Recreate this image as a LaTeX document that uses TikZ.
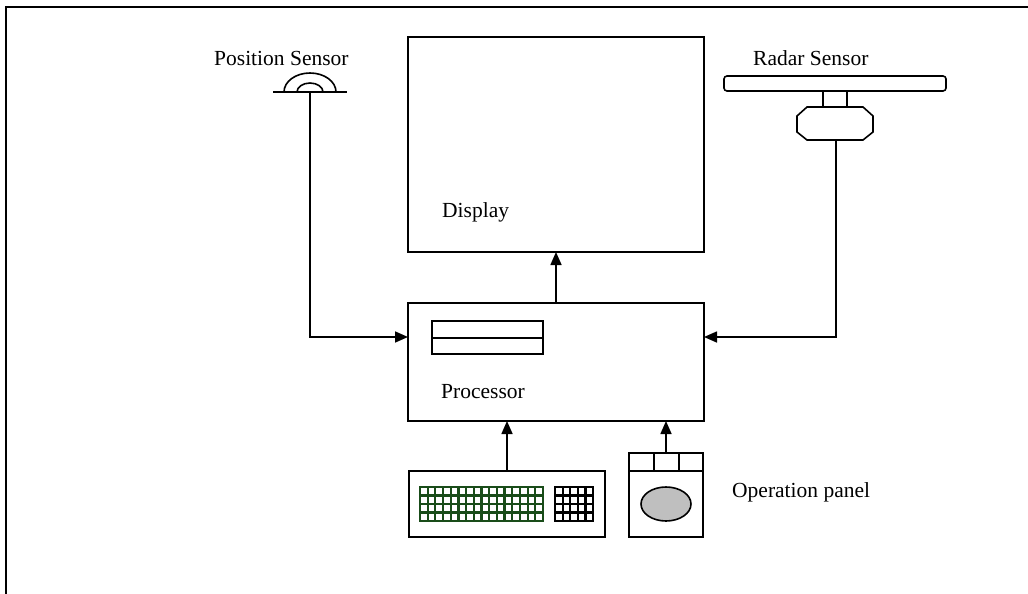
\documentclass[tikz,border=0pt]{standalone}
\usepackage{fontspec}
\setmainfont{Liberation Serif}
\usetikzlibrary{arrows.meta,calc}
\definecolor{kgreen}{rgb}{0.10,0.30,0.10}
\tikzset{
  ln/.style={line width=1.6pt,line join=miter},
  box/.style={draw,ln,rectangle,outer sep=0pt,inner sep=0pt},
  arr/.style={ln,-{Triangle[length=13pt,width=11pt]}},
  grd/.style={line width=2.2pt},
  lbl/.style={anchor=base west,inner sep=0pt,font=\fontsize{21.5}{24}\selectfont}
}
\begin{document}
\begin{tikzpicture}[x=1pt,y=-1pt]
\useasboundingbox (0,0) rectangle (1028,594);
% frame
\draw[line width=2pt] (6,594) -- (6,7) -- (1028,7);
% main boxes
\node[box,minimum width=296pt,minimum height=215pt] (display) at (556,144.5) {};
\node[box,minimum width=296pt,minimum height=118pt] (processor) at (556,362) {};
\node[box,minimum width=196pt,minimum height=66pt] (keyboard) at (507,504) {};
\node[box,minimum width=74pt,minimum height=84pt] (panel) at (666,495) {};
% labels
\node[lbl] (displaylbl) at (442,217) {Display};
\node[lbl] (proclbl) at (441,398) {Processor};
\node[lbl] (poslbl) at (214,66) {Position Sensor};
\node[lbl] (radlbl) at (753,66) {Radar Sensor};
\node[lbl] (oplbl) at (732,497) {Operation panel};
% processor slot
\draw[ln] (432,321) rectangle (543,354);
\draw[ln] (432,338) -- (543,338);
% position sensor
\draw[ln] (273,92) -- (347,92);
\draw[ln] (284,92) arc[start angle=180,end angle=0,x radius=26pt,y radius=19pt];
\draw[ln] (297,92) arc[start angle=180,end angle=0,x radius=13pt,y radius=9pt];
\coordinate (psens) at (310,92);
% radar sensor
\draw[ln,rounded corners=3pt] (724,76) rectangle (946,91);
\draw[ln] (823,91) rectangle (847,107);
\draw[ln] (807,107) -- (863,107) -- (873,116) -- (873,132) -- (863,140) -- (807,140) -- (797,132) -- (797,116) -- cycle;
\coordinate (rsens) at (836,140);
% keyboard grids
\begin{scope}
\draw[kgreen,grd] (420,487) rectangle (543,521);
\foreach \i in {1,...,15} \draw[kgreen,grd] ({420+\i*123/16},487) -- ({420+\i*123/16},521);
\foreach \j in {1,2,3} \draw[kgreen,grd] (420,{487+\j*8.5}) -- (543,{487+\j*8.5});
\draw[grd] (555,487) rectangle (593,521);
\foreach \i in {1,...,4} \draw[grd] ({555+\i*7.6},487) -- ({555+\i*7.6},521);
\foreach \j in {1,2,3} \draw[grd] (555,{487+\j*8.5}) -- (593,{487+\j*8.5});
\end{scope}
% operation panel details
\draw[ln] (629,471) -- (703,471);
\draw[ln] (654,453) -- (654,471);
\draw[ln] (679,453) -- (679,471);
\draw[ln,fill=black!25] (666,504) ellipse[x radius=25pt,y radius=17pt];
% connectors
\draw[arr] (processor.north) -- (display.south);
\draw[arr] (psens) |- ([yshift=25pt]processor.west);
\draw[arr] (rsens) |- ([yshift=25pt]processor.east);
\draw[arr] (keyboard.north) -- (keyboard.north |- processor.south);
\draw[arr] (panel.north) -- (panel.north |- processor.south);
\end{tikzpicture}
\end{document}
